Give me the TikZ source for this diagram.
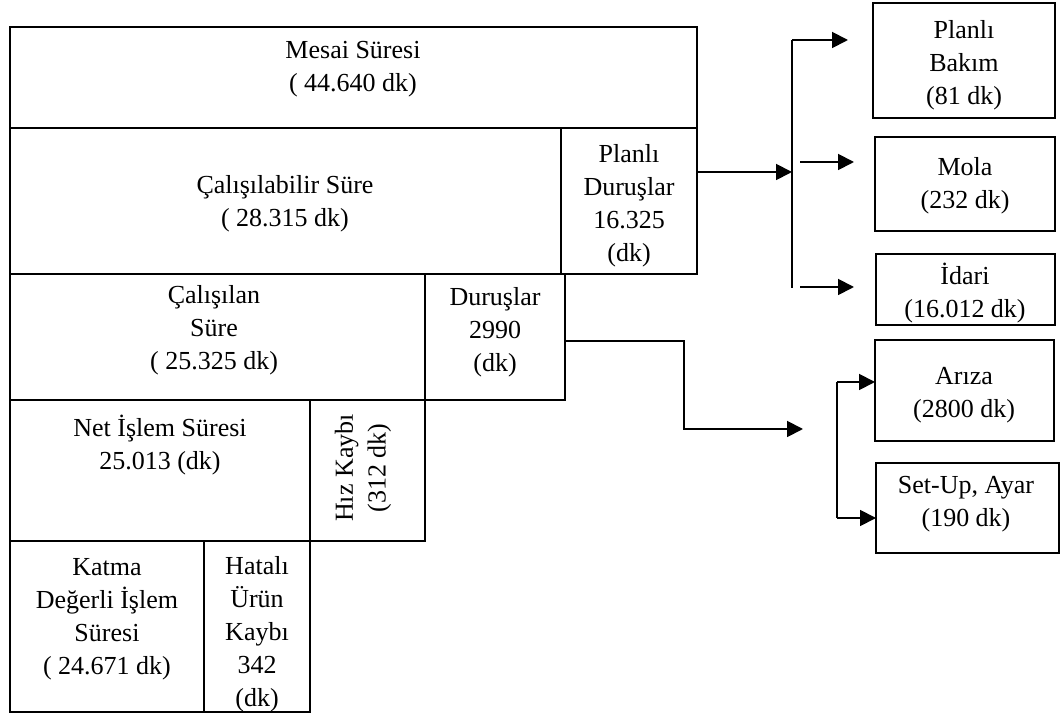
\documentclass[tikz,border=0pt]{standalone}
\usepackage{fontspec}
\setmainfont{Liberation Serif}
\usetikzlibrary{arrows.meta}
\newcommand\boxnode[5]{\node[box,minimum width={(#4-#2)*0.75pt},minimum height={(#5-#3)*0.75pt}] (#1) at (#2,#3) {};}
\begin{document}
\begin{tikzpicture}[x=0.75pt,y=-0.75pt,
  box/.style={draw,line width=1.3pt,inner sep=0pt,outer sep=0pt,anchor=north west},
  txt/.style={align=center,inner sep=0pt,font=\fontsize{19.5}{24.7}\selectfont},
  conn/.style={line width=1.4pt},
  arr/.style={conn,-{Triangle[length=12pt,width=12pt]}}]
\useasboundingbox (0,0) rectangle (1061,716);
% left stack
\boxnode{mesai}{10}{27}{697}{128}
\boxnode{calbil}{10}{128}{561}{274}
\boxnode{pdur}{561}{128}{697}{274}
\boxnode{calis}{10}{274}{425}{400}
\boxnode{dur}{425}{274}{565}{400}
\boxnode{net}{10}{400}{310}{541}
\boxnode{hiz}{310}{400}{425}{541}
\boxnode{katma}{10}{541}{204}{712}
\boxnode{hata}{204}{541}{310}{712}
% right boxes
\boxnode{bakim}{873}{3}{1055}{118}
\boxnode{mola}{875}{137}{1055}{231}
\boxnode{idari}{876}{254}{1055}{325}
\boxnode{ariza}{875}{340}{1054}{441}
\boxnode{setup}{876}{463}{1059}{553}
% texts
\node[txt] (mesaiT) at (353,69) {Mesai Süresi\\( 44.640 dk)};
\node[txt] (calbilT) at (285,204) {Çalışılabilir Süre\\( 28.315 dk)};
\node[txt] (pdurT) at (629,206) {Planlı\\Duruşlar\\16.325\\(dk)};
\node[txt] (calisT) at (214,330) {Çalışılan\\Süre\\( 25.325 dk)};
\node[txt] (durT) at (495,332) {Duruşlar\\2990\\(dk)};
\node[txt] (netT) at (160,445) {Net İşlem Süresi\\25.013 (dk)};
\node[txt,rotate=90] (hizT) at (363,468) {Hız Kaybı\\(312 dk)};
\node[txt] (katmaT) at (107,619) {Katma\\Değerli İşlem\\Süresi\\( 24.671 dk)};
\node[txt] (hataT) at (257,634) {Hatalı\\Ürün\\Kaybı\\342\\(dk)};
\node[txt] (bakimT) at (964,65) {Planlı\\Bakım\\(81 dk)};
\node[txt] (molaT) at (965,186) {Mola\\(232 dk)};
\node[txt] (idariT) at (965,293) {İdari\\(16.012 dk)};
\node[txt] (arizaT) at (964,395) {Arıza\\(2800 dk)};
\node[txt] (setupT) at (966,504) {Set-Up, Ayar\\(190 dk)};
% connector points
\coordinate (pdOut) at (697,172);
\coordinate (brIn) at (792,172);
\coordinate (brTop) at (792,40);
\coordinate (brBot) at (792,288);
\coordinate (bakimIn) at (848,40);
\coordinate (molaOut) at (800,162);
\coordinate (molaIn) at (854,162);
\coordinate (idariOut) at (800,287);
\coordinate (idariIn) at (854,287);
\coordinate (durOut) at (565,341);
\coordinate (durK1) at (684,341);
\coordinate (durK2) at (684,429);
\coordinate (durEnd) at (803,429);
\coordinate (br2Top) at (837,382);
\coordinate (br2Bot) at (837,518);
% connectors
\draw[arr] (pdOut) -- (brIn);
\draw[conn] (brTop) -- (brBot);
\draw[arr] (brTop) -- (bakimIn);
\draw[arr] (molaOut) -- (molaIn);
\draw[arr] (idariOut) -- (idariIn);
\draw[arr] (durOut) -- (durK1) -- (durK2) -- (durEnd);
\draw[conn] (br2Top) -- (br2Bot);
\draw[arr] (br2Top) -- (ariza.west |- br2Top);
\draw[arr] (br2Bot) -- (setup.west |- br2Bot);
\end{tikzpicture}
\end{document}
